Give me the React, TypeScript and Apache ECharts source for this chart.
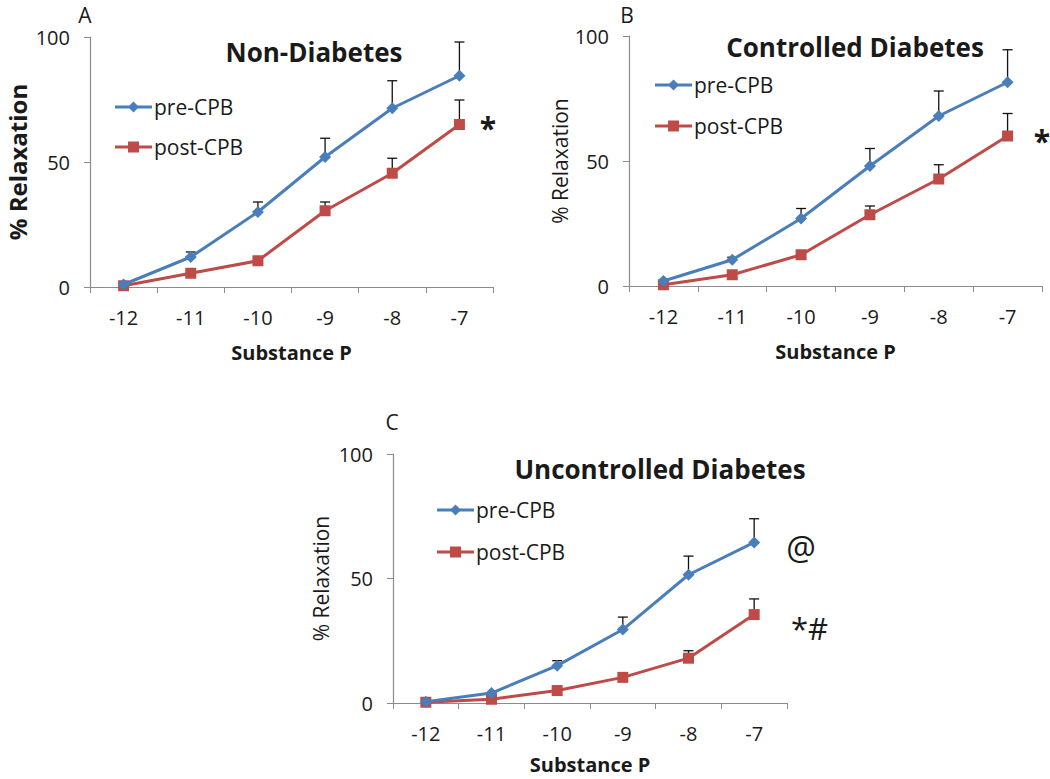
import React, { useEffect, useRef } from "react";
import * as echarts from "echarts";

const categories = ["-12", "-11", "-10", "-9", "-8", "-7"];
const yTicks = [0, 50, 100];

const nonPre = [1, 12, 30, 52, 71.5, 84.5];
const nonPreErr = [0, 2, 4, 7.5, 11, 13.5];
const nonPost = [0.5, 5.5, 10.5, 30.5, 45.5, 65];
const nonPostErr = [0, 0, 0, 3.5, 6, 9.8];

const ctrlPre = [2, 10.5, 27, 48, 68, 81.5];
const ctrlPreErr = [0, 1, 4, 7, 10, 13];
const ctrlPost = [0.5, 4.5, 12.5, 28.5, 42.8, 60];
const ctrlPostErr = [0, 0, 0, 3.5, 5.7, 9];

const uncPre = [0.5, 4, 15, 29.5, 51.5, 64.5];
const uncPreErr = [0, 0, 2, 5, 7.5, 9.5];
const uncPost = [0.3, 1.5, 5, 10.3, 18, 35.5];
const uncPostErr = [0, 0, 0, 0, 3, 6.3];

const panelTitles = ["Non-Diabetes", "Controlled Diabetes", "Uncontrolled Diabetes"];
const seriesNames = ["pre-CPB", "post-CPB"];
const xName = "Substance P";
const yName = "% Relaxation";

const FONT = "'Open Sans', 'Noto Sans', sans-serif";
const BLUE = "#4a7ebb";
const RED = "#be4b48";
const AXIS = "#8c8c8c";
const TXT = "#1a1a1a";

const errRender = (params: any, api: any) => {
  const i = api.value(0);
  const v = api.value(1);
  const e = api.value(2);
  if (!e || e <= 0) return { type: "group", children: [] };
  const base = api.coord([i, v]);
  const top = api.coord([i, v + e]);
  return {
    type: "group",
    children: [
      { type: "line", shape: { x1: base[0], y1: base[1], x2: top[0], y2: top[1] }, style: { stroke: "#111", lineWidth: 1.3 } },
      { type: "line", shape: { x1: top[0] - 5, y1: top[1], x2: top[0] + 5, y2: top[1] }, style: { stroke: "#111", lineWidth: 1.3 } },
    ],
  };
};

const legendGroup = (x1: number, x2: number, y1: number, y2: number) => {
  const mx = (x1 + x2) / 2;
  return [
    { type: "line", shape: { x1, y1, x2, y2: y1 }, style: { stroke: BLUE, lineWidth: 3 } },
    { type: "polygon", shape: { points: [[mx, y1 - 5.5], [mx + 5.5, y1], [mx, y1 + 5.5], [mx - 5.5, y1]] }, style: { fill: BLUE } },
    { type: "text", x: x2 + 2, y: y1, style: { text: seriesNames[0], font: `21px ${FONT}`, fill: TXT, textVerticalAlign: "middle" } },
    { type: "line", shape: { x1, y1: y2, x2, y2 }, style: { stroke: RED, lineWidth: 3 } },
    { type: "rect", shape: { x: mx - 5.5, y: y2 - 5.5, width: 11, height: 11 }, style: { fill: RED } },
    { type: "text", x: x2 + 2, y: y2, style: { text: seriesNames[1], font: `21px ${FONT}`, fill: TXT, textVerticalAlign: "middle" } },
  ];
};

export default function App() {
  const ref = useRef<HTMLDivElement>(null);
  useEffect(() => {
    if (!ref.current) return;
    const chart = echarts.init(ref.current, null, { renderer: "svg" });
    const grids = [
      { left: 90, top: 37, width: 403, height: 250 },
      { left: 629, top: 36, width: 413, height: 250 },
      { left: 393, top: 454, width: 394, height: 249 },
    ];
    const yNameGaps = [61, 52, 62];
    const xNameGaps = [55, 55, 51];
    const yNameStyles = [
      { fontSize: 24, fontWeight: "bold" },
      { fontSize: 21, fontWeight: 500 },
      { fontSize: 21, fontWeight: 500 },
    ];
    const xAxes = grids.map((_, gi) => ({
      type: "category",
      gridIndex: gi,
      data: categories,
      boundaryGap: true,
      axisLine: { lineStyle: { color: AXIS, width: 1.2 } },
      axisTick: { show: true, length: 6, lineStyle: { color: AXIS } },
      axisLabel: { color: TXT, fontSize: 20, fontFamily: FONT, margin: 20 },
      name: xName,
      nameLocation: "middle",
      nameGap: xNameGaps[gi],
      nameTextStyle: { color: TXT, fontSize: 20, fontWeight: "bold", fontFamily: FONT },
    }));
    const yAxes = grids.map((_, gi) => ({
      type: "value",
      gridIndex: gi,
      min: yTicks[0],
      max: yTicks[yTicks.length - 1],
      interval: yTicks[1] - yTicks[0],
      axisLine: { show: true, lineStyle: { color: AXIS, width: 1.2 } },
      axisTick: { show: true, length: 6, lineStyle: { color: AXIS } },
      splitLine: { show: false },
      axisLabel: { color: TXT, fontSize: 20, fontFamily: FONT, margin: 20 },
      name: yName,
      nameLocation: "middle",
      nameRotate: 90,
      nameGap: yNameGaps[gi],
      nameTextStyle: { color: TXT, fontFamily: FONT, ...yNameStyles[gi] },
    }));
    const sets = [
      [nonPre, nonPreErr, nonPost, nonPostErr],
      [ctrlPre, ctrlPreErr, ctrlPost, ctrlPostErr],
      [uncPre, uncPreErr, uncPost, uncPostErr],
    ];
    const series: any[] = [];
    sets.forEach(([pre, preErr, post, postErr], gi) => {
      series.push({
        type: "custom", xAxisIndex: gi, yAxisIndex: gi, renderItem: errRender, z: 1,
        data: pre.map((v, i) => [i, v, preErr[i]]), encode: { x: 0, y: 1 }, silent: true,
      });
      series.push({
        type: "custom", xAxisIndex: gi, yAxisIndex: gi, renderItem: errRender, z: 1,
        data: post.map((v, i) => [i, v, postErr[i]]), encode: { x: 0, y: 1 }, silent: true,
      });
      series.push({
        name: seriesNames[0], type: "line", xAxisIndex: gi, yAxisIndex: gi, data: pre, z: 3,
        symbol: "diamond", symbolSize: 12, showAllSymbol: true,
        lineStyle: { color: BLUE, width: 3 }, itemStyle: { color: BLUE },
      });
      series.push({
        name: seriesNames[1], type: "line", xAxisIndex: gi, yAxisIndex: gi, data: post, z: 2,
        symbol: "rect", symbolSize: 11, showAllSymbol: true,
        lineStyle: { color: RED, width: 3 }, itemStyle: { color: RED },
      });
    });
    const txt = (x: number, y: number, text: string, size: number, weight: any = "normal", align = "center") => ({
      type: "text", x, y,
      style: { text, font: `${weight} ${size}px ${FONT}`, fill: TXT, textAlign: align, textVerticalAlign: "middle" },
    });
    const graphic = [
      txt(85, 15, "A", 21),
      txt(627, 15, "B", 21),
      txt(392, 422, "C", 21),
      txt(314, 52, panelTitles[0], 26, "bold"),
      txt(855, 47, panelTitles[1], 26, "bold"),
      txt(660, 469, panelTitles[2], 26, "bold"),
      txt(488, 127, "*", 30, "bold"),
      txt(1042, 140, "*", 30, "bold"),
      txt(801, 547, "@", 33),
      txt(791, 628, "*#", 31, "normal", "left"),
      ...legendGroup(115, 152, 107, 147),
      ...legendGroup(655, 692, 85, 126),
      ...legendGroup(437, 474, 510, 552),
    ];
    chart.setOption({
      animation: false,
      backgroundColor: "#ffffff",
      grid: grids,
      xAxis: xAxes,
      yAxis: yAxes,
      series,
      graphic,
    });
    return () => chart.dispose();
  }, []);
  return <div ref={ref} style={{ position: "absolute", left: 0, top: 0, width: 1050, height: 779 }} />;
}
